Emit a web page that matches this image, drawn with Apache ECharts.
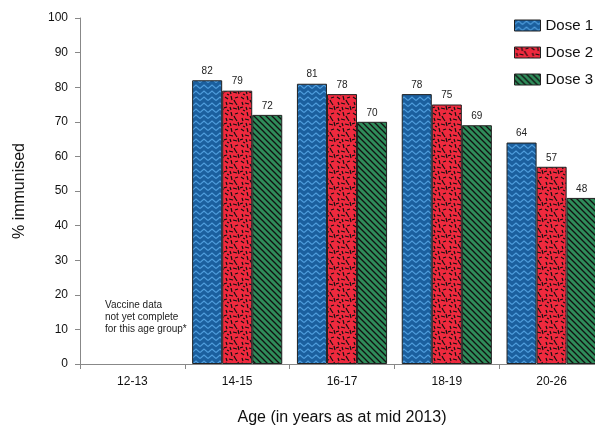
<!DOCTYPE html>
<html>
<head>
<meta charset="utf-8">
<script src="https://cdn.jsdelivr.net/npm/echarts@6/dist/echarts.min.js"></script>
<style>
  html, body { margin: 0; padding: 0; background: #fff; }
  #chart { width: 595px; height: 425px; }
</style>
</head>
<body>
<div id="chart"></div>
<script>
// Age groups and immunisation coverage (%) per dose
const categories = ['12-13', '14-15', '16-17', '18-19', '20-26'];
const dose1 = [null, 82, 81, 78, 64];
const dose2 = [null, 79, 78, 75, 57];
const dose3 = [null, 72, 70, 69, 48];
const seriesNames = ['Dose 1', 'Dose 2', 'Dose 3'];
const noteLines = ['Vaccine data', 'not yet complete', 'for this age group*'];

// --- fill patterns ---
function makeTile(w, h, draw) {
  const c = document.createElement('canvas');
  c.width = w; c.height = h;
  draw(c.getContext('2d'), w, h);
  return c;
}

// blue with light zigzag waves
const zigzag = makeTile(8, 6, (g, w, h) => {
  g.fillStyle = '#1b5f9e';
  g.fillRect(0, 0, w, h);
  g.strokeStyle = '#4f9ddc';
  g.lineWidth = 1.2;
  g.beginPath();
  g.moveTo(0, 4.5); g.lineTo(4, 1); g.lineTo(8, 4.5);
  g.stroke();
});

// red with short black dashes scattered in fixed directions
const dashSegs = [
  [1, 1, 4, 3], [7, 0, 8, 4], [11, 2, 14, 1], [2, 6, 3, 9], [5, 7, 9, 8],
  [11, 6, 13, 9], [0, 12, 3, 11], [6, 11, 7, 14], [9, 12, 13, 13], [14, 10, 15, 14],
  [3, 14, 5, 15], [10, 4, 11, 6]
];
const dashes = makeTile(16, 16, (g, w, h) => {
  g.fillStyle = '#ef2a3e';
  g.fillRect(0, 0, w, h);
  g.strokeStyle = '#111';
  g.lineWidth = 1.2;
  dashSegs.forEach(s => {
    g.beginPath(); g.moveTo(s[0], s[1]); g.lineTo(s[2], s[3]); g.stroke();
  });
});

// green with black diagonal hatching
const hatch = makeTile(6, 6, (g, w, h) => {
  g.fillStyle = '#2f8c5a';
  g.fillRect(0, 0, w, h);
  g.strokeStyle = '#111';
  g.lineWidth = 1.3;
  g.beginPath();
  g.moveTo(-1, -1); g.lineTo(7, 7);
  g.moveTo(-1, 5); g.lineTo(1, 7);
  g.moveTo(5, -1); g.lineTo(7, 1);
  g.stroke();
});

const fills = [zigzag, dashes, hatch];
const values = [dose1, dose2, dose3];

const chart = echarts.init(document.getElementById('chart'), null, { renderer: 'canvas' });
const font = 'Liberation Sans, Arial, sans-serif';

chart.setOption({
  animation: false,
  textStyle: { fontFamily: font },
  grid: {
    left: 80, top: 18, width: 524, height: 346,
    containLabel: false,
    outerBoundsMode: 'none'
  },
  legend: {
    orient: 'vertical',
    left: 509,
    top: 13,
    icon: 'rect',
    itemWidth: 26,
    itemHeight: 11,
    itemGap: 12,
    itemStyle: { borderColor: '#222', borderWidth: 1 },
    textStyle: { fontSize: 15, color: '#111', fontFamily: font },
    data: seriesNames
  },
  xAxis: {
    type: 'category',
    data: categories,
    name: 'Age (in years as at mid 2013)',
    nameLocation: 'middle',
    nameGap: 46,
    nameTextStyle: { fontSize: 16, color: '#111' },
    axisLine: { lineStyle: { color: '#888' } },
    axisTick: { show: true, length: 5, lineStyle: { color: '#888' } },
    axisLabel: { fontSize: 12, color: '#111', margin: 12 }
  },
  yAxis: {
    type: 'value',
    min: 0,
    max: 100,
    interval: 10,
    name: '% immunised',
    nameLocation: 'middle',
    nameGap: 52,
    nameTextStyle: { fontSize: 16, color: '#111' },
    splitLine: { show: false },
    axisLine: { show: true, lineStyle: { color: '#888' } },
    axisTick: { show: true, length: 5, lineStyle: { color: '#888' } },
    axisLabel: { fontSize: 12, color: '#111', margin: 12 }
  },
  series: seriesNames.map((name, i) => ({
    name: name,
    type: 'bar',
    data: values[i],
    barGap: '0%',
    barCategoryGap: '14%',
    itemStyle: {
      color: { image: fills[i], repeat: 'repeat' },
      borderColor: '#222',
      borderWidth: 1
    },
    label: {
      show: true,
      position: 'top',
      distance: 4,
      fontSize: 10,
      color: '#222'
    }
  })),
  graphic: [{
    type: 'text',
    left: 105,
    top: 299,
    style: {
      text: noteLines.join('\n'),
      font: '10px ' + font,
      fill: '#222',
      lineHeight: 12
    }
  }]
});
</script>
</body>
</html>
